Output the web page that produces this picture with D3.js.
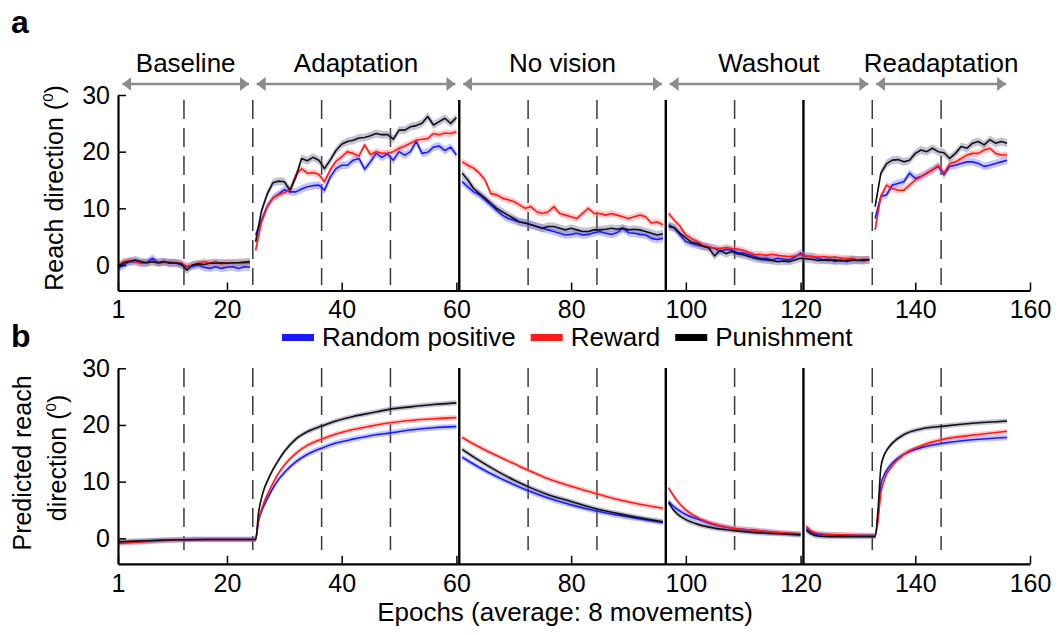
<!DOCTYPE html>
<meta charset="utf-8">
<style>
  body { margin: 0; background: #fff; }
  svg text { font-family: "Liberation Sans", Arial, Helvetica, sans-serif; fill: #000; }
</style>
<body>
<script src="https://cdn.jsdelivr.net/npm/d3@7"></script>
<script>

// ---- data ----
var seriesNames = ['Random positive', 'Reward', 'Punishment'];
var epochs = d3.range(1, 157);   // epoch numbers 1..156

// panel a: measured reach direction per epoch (deg)
var randomPositive = [
  -0.6, 0, 0.6, 0.6, 0.3, 0.4, 1.2, 0.4, 0.6, 0.3, 0.4, 0, -0.3, -0.2, 0, -0.4, -0.6, -0.3, -0.6, -0.4, -0.3, -0.6, -0.3, -0.4,
  5.3, 7.9, 10.3, 11.8, 12.5, 13.3, 12.9, 12.9, 13.4, 13.8, 14.0, 14.1, 13.2, 15.5, 17.0, 17.6, 17.6, 18.5, 18.8, 16.9, 18.2, 19.7, 19.0, 19.6, 18.5, 20.0, 19.4, 20.0, 21.8, 19.7, 19.9, 20.8, 21.0, 20.2, 20.8, 19.4,
  14.7, 13.8, 12.9, 12.4, 11.5, 10.6, 9.7, 8.8, 8.2, 7.9, 7.6, 7.4, 7.1, 6.8, 6.5, 6.2, 5.9, 5.6, 5.3, 5.4, 5.6, 5.3, 5.4, 5.7, 5.9, 5.6, 5.4, 5.7, 6.5, 5.7, 5.6, 5.4, 5.3, 4.7, 4.5, 4.7,
  7.1, 6.5, 5.3, 4.1, 3.8, 3.5, 3.3, 3.2, 2.9, 2.4, 2.8, 2.6, 2.2, 2.1, 1.8, 1.5, 1.2, 1.2, 0.9, 1.2, 1.0, 0.9, 1.4, 2.1, 1.5, 1.5, 1.2, 0.9, 1.0, 0.6, 0.9, 0.6, 0.8, 0.9, 0.7, 1.0,
  8.2, 12.1, 12.4, 14.1, 14.4, 14.7, 16.2, 15.3, 15.6, 16.2, 16.8, 17.4, 15.9, 17.4, 17.6, 17.9, 18.2, 18.2, 17.9, 17.4, 17.6, 17.9, 18.2, 18.5
];
var reward = [
  0, 0.6, 0.8, 0.6, 0.3, 0.4, 0.6, 0.3, 0.4, 0.6, 0.4, 0.3, -0.2, 0, 0.3, 0.6, 0.3, 0.6, 0.2, 0.4, 0.3, 0.4, 0.3, 0.4,
  2.6, 7.5, 10.3, 11.8, 12.4, 12.8, 13.2, 15.9, 17.0, 16.2, 16.3, 16.0, 14.7, 16.8, 18.3, 19.1, 20.0, 19.7, 19.2, 21.2, 19.5, 20.0, 19.7, 19.7, 20.0, 20.6, 21.0, 21.5, 22.0, 22.2, 22.3, 23.2, 23.0, 23.3, 23.2, 23.5,
  18.2, 17.6, 17.1, 16.2, 15.0, 12.6, 12.4, 11.8, 11.5, 11.2, 10.6, 10.0, 10.3, 9.4, 9.1, 9.4, 10.3, 9.1, 8.8, 8.5, 8.2, 9.1, 10.0, 9.1, 9.1, 8.8, 9.1, 8.8, 8.5, 8.2, 8.5, 8.8, 8.5, 7.4, 7.6, 7.1,
  9.1, 7.9, 6.8, 5.3, 4.7, 4.1, 3.5, 3.2, 3.0, 2.9, 3.1, 2.9, 2.8, 2.6, 2.2, 1.8, 1.9, 1.7, 1.9, 1.7, 1.6, 1.5, 1.6, 1.8, 1.6, 1.5, 1.4, 1.5, 1.3, 1.4, 1.2, 1.1, 1.2, 0.9, 1.0, 0.9,
  6.2, 12.1, 14.1, 13.5, 13.2, 13.2, 14.1, 15.0, 15.6, 16.2, 16.8, 17.6, 16.2, 17.9, 18.2, 18.8, 19.4, 19.7, 19.7, 20.3, 20.6, 19.7, 19.4, 19.4
];
var punishment = [
  -0.3, 0.4, 0.6, 0.9, 0.6, 0.4, 0.6, 0.4, 0.6, 0.3, 0.4, 0.2, -0.9, 0, 0.2, 0.1, 0.3, 0.3, 0.4, 0.3, 0.4, 0.4, 0.5, 0.6,
  4.1, 9.5, 12.5, 14.5, 14.8, 14.7, 13.2, 15.5, 18.8, 18.4, 19.0, 18.5, 17.0, 18.5, 20.2, 21.3, 21.8, 22.0, 22.4, 22.5, 22.8, 23.2, 23.0, 23.0, 22.2, 23.8, 23.8, 24.4, 24.6, 25.0, 26.2, 24.7, 25.3, 25.9, 25.0, 26.0,
  16.2, 15.0, 13.5, 12.6, 11.8, 10.9, 10.0, 9.4, 8.8, 8.2, 7.6, 7.4, 7.1, 6.8, 6.5, 6.8, 6.8, 6.5, 6.2, 6.5, 6.2, 5.9, 5.9, 6.2, 6.2, 6.3, 6.5, 6.3, 6.5, 6.2, 6.3, 6.2, 5.9, 5.6, 5.3, 5.5,
  6.8, 6.6, 5.6, 4.8, 4.0, 3.8, 3.3, 3.0, 1.6, 2.6, 2.0, 2.4, 2.0, 1.8, 1.5, 1.2, 1.0, 0.9, 0.8, 0.6, 0.7, 0.6, 0.9, 1.2, 1.1, 1.0, 0.8, 0.9, 0.8, 0.9, 0.7, 0.8, 0.9, 0.8, 0.9, 0.9,
  10.3, 16.2, 17.9, 18.5, 18.6, 18.2, 18.5, 19.7, 20.3, 20.0, 20.6, 20.0, 19.8, 18.8, 19.7, 20.9, 20.6, 21.5, 21.8, 21.2, 22.1, 21.5, 21.8, 21.5
];
var measuredSE = [0.7, 0.6, 0.7];

// panel b: model prediction, sampled along each curve
var modelEpochs = [
  1, 4, 8, 12, 16, 20, 24, 25, 25.5, 26, 26.5, 27, 28, 29, 30, 32, 34, 36.5, 39, 42, 45, 48.5, 52, 56, 60,
  61, 64, 67, 70, 73, 76, 80, 84, 88, 92, 96,
  97, 98, 99, 100, 102, 105, 108, 112, 116, 120,
  121, 122, 123, 125, 128, 133, 133.5, 134, 134.5, 135, 136, 138, 141, 145, 150, 156
];
var modelRandomPositive = [
  -0.8, -0.6, -0.4, -0.25, -0.2, -0.2, -0.2, -0.2, 3.0, 4.7, 5.9, 6.9, 8.8, 10.4, 11.6, 13.5, 14.8, 15.9, 16.8, 17.5, 18.1, 18.6, 19.1, 19.5, 19.7,
  14.3, 12.5, 10.9, 9.5, 8.2, 7.1, 5.9, 4.9, 4.1, 3.4, 2.8,
  6.5, 5.5, 4.8, 4.2, 3.4, 2.4, 1.8, 1.4, 1.0, 0.7,
  1.7, 1.0, 0.7, 0.6, 0.5, 0.5, 4.0, 9.5, 11.0, 12.0, 13.3, 14.8, 16.0, 16.8, 17.4, 17.8
];
var modelReward = [
  -0.9, -0.7, -0.45, -0.25, -0.2, -0.2, -0.2, -0.2, 3.3, 5.0, 6.5, 7.6, 9.7, 11.5, 12.9, 15.0, 16.4, 17.5, 18.4, 19.2, 19.8, 20.4, 20.8, 21.1, 21.3,
  17.8, 16.1, 14.6, 13.2, 11.8, 10.5, 9.2, 8.0, 6.9, 6.0, 5.3,
  8.9, 7.3, 6.0, 5.0, 3.7, 2.5, 1.8, 1.4, 1.0, 0.8,
  2.1, 1.2, 0.9, 0.7, 0.6, 0.5, 3.0, 8.0, 10.0, 11.3, 12.8, 14.8, 16.3, 17.5, 18.2, 18.9
];
var modelPunishment = [
  -0.6, -0.5, -0.35, -0.25, -0.2, -0.2, -0.2, -0.2, 4.5, 7.0, 8.8, 10.0, 12.1, 13.8, 15.3, 17.5, 18.8, 19.8, 20.7, 21.5, 22.1, 22.8, 23.2, 23.6, 23.9,
  15.7, 13.7, 11.9, 10.3, 8.9, 7.7, 6.5, 5.3, 4.4, 3.6, 2.9,
  6.3, 4.8, 3.9, 3.3, 2.5, 1.8, 1.4, 1.0, 0.8, 0.6,
  1.4, 0.7, 0.4, 0.3, 0.3, 0.3, 5.0, 12.5, 14.5, 15.5, 16.8, 18.3, 19.3, 19.8, 20.3, 20.7
];
var modelSE = [0.5, 0.45, 0.45];

// phases, blocks and axes
var phaseNames = ['Baseline', 'Adaptation', 'No vision', 'Washout', 'Readaptation'];
var phaseSpans = [[1.6, 24], [25, 60], [61, 96], [97, 132], [133, 156]];
var measuredSegments = [[1, 24], [25, 60], [61, 96], [97, 132], [133, 156]];
var modelSegments = [[1, 60], [61, 96], [97, 120], [121, 156]];
var blockLines = [12.5, 24.5, 36.5, 48.5, 60.5, 72.5, 84.5, 96.5, 108.5, 120.5, 132.5, 144.5];
var solidLines = [60.5, 96.5, 120.5];
var xTicks = [1, 20, 40, 60, 80, 100, 120, 140, 160];
var yTicks = [0, 10, 20, 30];

var lineColors = ['#1a1aff', '#ff1a1a', '#111111'];
var bandColors = ['#7070ff', '#ff7a7a', '#6a6a96'];

// ---- drawing ----
var svg = d3.select('body').append('svg')
    .attr('width', 1060)
    .attr('height', 635);

var x = d3.scaleLinear().domain([1, 160]).range([118, 1030]);
var yTop = d3.scaleLinear().domain([-4.5, 30]).range([290.5, 95]);
var yBot = d3.scaleLinear().domain([-4.5, 30]).range([563.8, 368.3]);

svg.append('defs').append('marker')
    .attr('id', 'arrow')
    .attr('viewBox', '0 0 9 14')
    .attr('refX', 9).attr('refY', 7)
    .attr('markerWidth', 9).attr('markerHeight', 14)
    .attr('markerUnits', 'userSpaceOnUse')
    .attr('orient', 'auto-start-reverse')
  .append('path')
    .attr('d', 'M0,0L9,7L0,14Z')
    .attr('fill', '#8c8c8c');

function drawAxes(y) {
  var gx = svg.append('g')
      .attr('transform', 'translate(0,' + y.range()[0] + ')')
      .call(d3.axisBottom(x).tickValues(xTicks).tickSize(-8).tickSizeOuter(0).tickPadding(10));
  var gy = svg.append('g')
      .attr('transform', 'translate(' + x.range()[0] + ',0)')
      .call(d3.axisLeft(y).tickValues(yTicks).tickSize(-8).tickSizeOuter(0).tickPadding(8));
  [gx, gy].forEach(function (g) {
    g.attr('font-size', 25).attr('font-family', null);
    g.select('.domain').attr('stroke', '#000').attr('stroke-width', 2.2);
    g.selectAll('.tick line').attr('stroke', '#000').attr('stroke-width', 1.5);
  });
}

function drawBlocks(y, top, dashEnd) {
  blockLines.forEach(function (b) {
    var solid = solidLines.indexOf(b) >= 0;
    svg.append('line')
        .attr('x1', x(b)).attr('x2', x(b))
        .attr('y1', top)
        .attr('y2', solid ? y.range()[0] : dashEnd)
        .attr('stroke', solid ? '#000' : '#3a3a3a')
        .attr('stroke-width', solid ? 2.4 : 1.5)
        .attr('stroke-dasharray', solid ? null : '19,9');
  });
}

function segmentPoints(xs, vals, seg) {
  var pts = [];
  xs.forEach(function (e, i) {
    if (e >= seg[0] && e <= seg[1]) pts.push({ e: e, v: vals[i] });
  });
  return pts;
}

function drawSeries(y, xs, allVals, se, segs, curve) {
  var g = svg.append('g');
  allVals.forEach(function (vals, k) {
    var area = d3.area()
        .x(function (d) { return x(d.e); })
        .y0(function (d) { return y(d.v - se[k]); })
        .y1(function (d) { return y(d.v + se[k]); })
        .curve(curve);
    segs.forEach(function (s) {
      g.append('path')
          .datum(segmentPoints(xs, vals, s))
          .attr('d', area)
          .attr('fill', bandColors[k])
          .attr('fill-opacity', 0.4);
    });
  });
  allVals.forEach(function (vals, k) {
    var line = d3.line()
        .x(function (d) { return x(d.e); })
        .y(function (d) { return y(d.v); })
        .curve(curve);
    segs.forEach(function (s) {
      g.append('path')
          .datum(segmentPoints(xs, vals, s))
          .attr('d', line)
          .attr('fill', 'none')
          .attr('stroke', lineColors[k])
          .attr('stroke-width', 1.6)
          .attr('stroke-linejoin', 'round');
    });
  });
}

// panel a
drawBlocks(yTop, 100, 285);
drawSeries(yTop, epochs, [randomPositive, reward, punishment], measuredSE, measuredSegments, d3.curveLinear);
drawAxes(yTop);

// panel b
drawBlocks(yBot, 368, 550);
drawSeries(yBot, modelEpochs, [modelRandomPositive, modelReward, modelPunishment], modelSE, modelSegments, d3.curveMonotoneX);
drawAxes(yBot);

// phase arrows and names
phaseNames.forEach(function (name, i) {
  var x0 = x(phaseSpans[i][0]), x1 = x(phaseSpans[i][1]);
  svg.append('line')
      .attr('x1', x0 + 1).attr('x2', x1 - 1)
      .attr('y1', 84).attr('y2', 84)
      .attr('stroke', '#8c8c8c')
      .attr('stroke-width', 2.6)
      .attr('marker-start', 'url(#arrow)')
      .attr('marker-end', 'url(#arrow)');
  svg.append('text')
      .attr('x', (x0 + x1) / 2).attr('y', 72)
      .attr('text-anchor', 'middle')
      .attr('font-size', 26)
      .text(name);
});

// panel letters
svg.append('text').attr('x', 11).attr('y', 33).attr('font-size', 32).attr('font-weight', 'bold').text('a');
svg.append('text').attr('x', 11).attr('y', 347).attr('font-size', 32).attr('font-weight', 'bold').text('b');

// y labels with superscript degree
function degreeLabel(tx, ty, txt) {
  var t = svg.append('text')
      .attr('transform', 'translate(' + tx + ',' + ty + ') rotate(-90)')
      .attr('text-anchor', 'middle')
      .attr('font-size', 25);
  t.append('tspan').text(txt + ' (');
  t.append('tspan').attr('font-size', 15).attr('dy', -10).text('0');
  t.append('tspan').attr('dy', 10).text(')');
}
degreeLabel(63, 188, 'Reach direction');
svg.append('text')
    .attr('transform', 'translate(31,463) rotate(-90)')
    .attr('text-anchor', 'middle')
    .attr('font-size', 25)
    .text('Predicted reach');
degreeLabel(66, 458, 'direction');

svg.append('text')
    .attr('x', 565).attr('y', 621)
    .attr('text-anchor', 'middle')
    .attr('font-size', 26)
    .text('Epochs (average: 8 movements)');

// legend
var lx = 282;
seriesNames.forEach(function (name, k) {
  svg.append('rect')
      .attr('x', lx).attr('y', 334)
      .attr('width', 32).attr('height', 7)
      .attr('fill', lineColors[k] === '#111111' ? '#000' : lineColors[k]);
  var t = svg.append('text')
      .attr('x', lx + 40).attr('y', 346)
      .attr('font-size', 26)
      .text(name);
  lx += 40 + t.node().getComputedTextLength() + 15;
});

</script>
</body>
